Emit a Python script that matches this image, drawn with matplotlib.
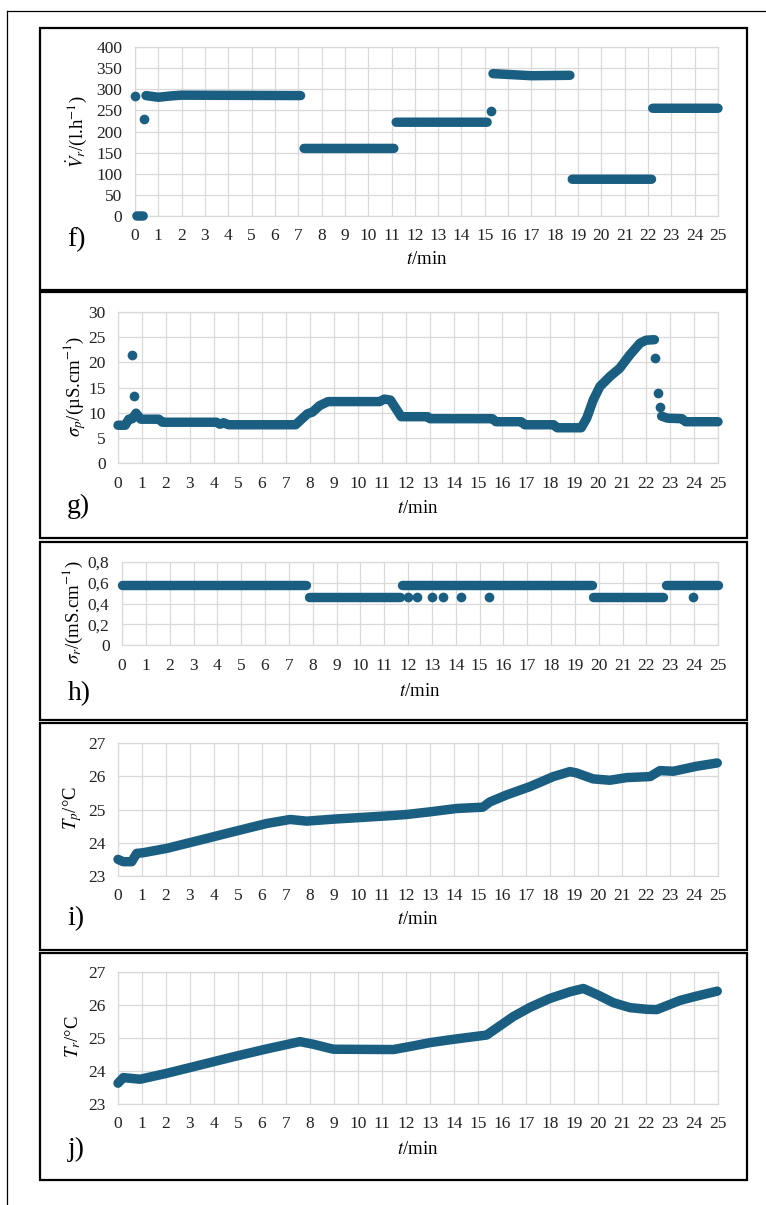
import numpy as np
import matplotlib
matplotlib.use('Agg')
import matplotlib.pyplot as plt
from matplotlib.patches import Rectangle
from matplotlib.lines import Line2D

nan = np.nan

# f) reject flow
f_t = [0.08, 0.35, nan, 0.47, 1.0, 1.5, 2.0, 7.1, nan, 7.25, 11.1, nan,
       11.2, 15.1, nan, 15.35, 17.0, 18.65, nan, 18.75, 22.15, nan, 22.2, 25.0]
f_v = [0, 0, nan, 285, 281, 284, 286, 285, nan, 160, 160, nan,
       222, 222, nan, 337, 332, 333, nan, 87, 87, nan, 255, 255]
f_dot_t = [0.0, 0.4, 15.25]
f_dot_v = [285, 230, 248]

# g) permeate conductivity
g_t = [0, 0.3, 0.45, 0.6, 0.75, 0.95, 1.7, 1.85, 4.1, 4.25, 4.4, 4.6, 7.4,
       7.9, 8.1, 8.4, 8.75, 10.9, 11.1, 11.35, 11.8, 12.9, 13.0, 15.6, 15.75,
       16.8, 16.95, 18.15, 18.3, 19.3, 19.53, 19.8, 20.08, 20.5, 20.9, 21.33,
       21.75, 22.0, 22.35, nan, 22.65, 22.9, 23.5, 23.65, 25.0]
g_v = [7.5, 7.5, 8.7, 8.8, 9.9, 8.7, 8.7, 8.1, 8.1, 7.7, 8.0, 7.6, 7.6,
       9.8, 10.1, 11.4, 12.2, 12.2, 12.7, 12.5, 9.2, 9.2, 8.8, 8.8, 8.2,
       8.2, 7.6, 7.6, 7.0, 7.0, 8.9, 12.5, 15.2, 17.2, 18.8, 21.5,
       23.8, 24.4, 24.5, nan, 9.3, 8.9, 8.8, 8.2, 8.2]
g_dot_t = [0.6, 0.67, 22.39, 22.49, 22.58]
g_dot_v = [21.5, 13.3, 20.8, 13.9, 11.1]

# h) reject conductivity
h_t = [0, 7.7, nan, 7.85, 11.65, nan, 11.75, 19.7, nan, 19.75, 22.7, nan, 22.8, 25.0]
h_v = [0.58, 0.58, nan, 0.46, 0.46, nan, 0.58, 0.58, nan, 0.46, 0.46, nan, 0.58, 0.58]
h_dot_t = [12.0, 12.37, 13.0, 13.45, 14.2, 15.4, 23.97]
h_dot_v = [0.46, 0.46, 0.46, 0.46, 0.46, 0.46, 0.46]

# i) permeate temperature
i_t = [0, 0.22, 0.57, 0.78, 1.05, 2.03, 3.42, 4.8, 6.2, 7.17, 7.86, 8.97,
       10.36, 11.47, 12.03, 13.0, 14.1, 15.2, 15.5, 16.2, 17.17, 18.14,
       18.83, 19.1, 19.8, 20.5, 21.2, 22.17, 22.58, 23.14, 24.1, 24.97]
i_v = [23.5, 23.43, 23.43, 23.68, 23.7, 23.83, 24.08, 24.33, 24.58, 24.7,
       24.65, 24.71, 24.77, 24.82, 24.85, 24.93, 25.03, 25.07, 25.23, 25.44,
       25.69, 25.99, 26.14, 26.1, 25.92, 25.88, 25.96, 25.99, 26.17, 26.15,
       26.3, 26.4]

# j) reject temperature
j_t = [0.0, 0.22, 0.92, 2.03, 3.42, 4.8, 6.2, 7.58, 8.14, 8.97, 11.47,
       12.3, 13.0, 13.97, 15.36, 16.47, 17.17, 18.0, 18.83, 19.39, 19.95,
       20.64, 21.33, 22.03, 22.45, 23.42, 24.11, 24.97]
j_v = [23.63, 23.8, 23.75, 23.93, 24.18, 24.43, 24.67, 24.89, 24.81, 24.66,
       24.65, 24.76, 24.86, 24.96, 25.09, 25.65, 25.93, 26.2, 26.4, 26.5,
       26.32, 26.07, 25.92, 25.87, 25.86, 26.14, 26.27, 26.42]

x_ticks = list(range(0, 26))
f_yticks = [0, 50, 100, 150, 200, 250, 300, 350, 400]
g_yticks = [0, 5, 10, 15, 20, 25, 30]
h_yticks = [0, 0.2, 0.4, 0.6, 0.8]
h_ylabels = ['0', '0,2', '0,4', '0,6', '0,8']
t_yticks = [23, 24, 25, 26, 27]

W, H = 766, 1205
COL = '#1a5f82'
GRID = '#d9d9d9'

plt.rcParams['font.family'] = ['Liberation Serif', 'DejaVu Serif']
plt.rcParams['mathtext.fontset'] = 'stix'

fig = plt.figure(figsize=(W / 100, H / 100), dpi=100)


def fx(x):
    return x / W


def fy(y):
    return 1 - y / H


def make_ax(left, right, top, bottom, yticks, ylabels=None):
    ax = fig.add_axes([fx(left), fy(bottom), fx(right - left), (bottom - top) / H])
    ax.set_xlim(0, 25)
    ax.set_ylim(yticks[0], yticks[-1])
    ax.set_xticks(x_ticks)
    ax.set_yticks(yticks)
    if ylabels:
        ax.set_yticklabels(ylabels)
    ax.grid(True, color=GRID, lw=0.9)
    ax.set_axisbelow(True)
    for s in ax.spines.values():
        s.set_color(GRID)
        s.set_linewidth(0.9)
    ax.tick_params(axis='both', length=0, labelsize=12.5, colors='#222222')
    ax.tick_params(axis='y', pad=9)
    ax.tick_params(axis='x', pad=9)
    return ax


def draw(ax, t, v, dt=None, dv=None):
    ax.plot(t, v, color=COL, lw=6.8, solid_capstyle='round',
            solid_joinstyle='round', clip_on=False, zorder=3)
    if dt:
        ax.plot(dt, dv, 'o', color=COL, ms=7, mew=0, clip_on=False, zorder=3)


ax = make_ax(135, 718, 47, 216, f_yticks)
draw(ax, f_t, f_v, f_dot_t, f_dot_v)
ax = make_ax(118, 718, 312, 463, g_yticks)
draw(ax, g_t, g_v, g_dot_t, g_dot_v)
ax = make_ax(122, 718, 562, 645, h_yticks, h_ylabels)
draw(ax, h_t, h_v, h_dot_t, h_dot_v)
ax = make_ax(118, 718, 743, 876, t_yticks)
draw(ax, i_t, i_v)
ax = make_ax(118, 718, 972, 1104, t_yticks)
draw(ax, j_t, j_v)

# labels
ylabs = [(r'$\dot{V}_r$/(l.h$^{-1}$)', 77, 132),
         (r'$\sigma_p$/(µS.cm$^{-1}$)', 75, 386),
         (r'$\sigma_r$/(mS.cm$^{-1}$)', 73, 612),
         (r'$T_p$/°C', 73, 808),
         (r'$T_r$/°C', 73, 1037)]
for s, x, y in ylabs:
    fig.text(fx(x), fy(y), s, rotation=90, ha='center', va='center', fontsize=13.5)

xlab_pos = [(427, 260), (418, 508), (420, 691), (418, 920), (418, 1149)]
for x, y in xlab_pos:
    fig.text(fx(x), fy(y), r'$t$/min', ha='center', va='center', fontsize=13.5)

letters = [('f)', 76, 240), ('g)', 78, 506), ('h)', 79, 694), ('i)', 76, 919), ('j)', 76, 1149)]
for s, x, y in letters:
    fig.text(fx(x), fy(y), s, ha='center', va='center', fontsize=20)

# panel frames
boxes = [(28, 290), (292, 538), (542, 720), (723, 950), (953, 1180)]
for top, bottom in boxes:
    fig.patches.append(Rectangle((fx(40), fy(bottom)), fx(707), (bottom - top) / H,
                                 transform=fig.transFigure, fill=False,
                                 edgecolor='black', lw=1.6))

# outer frame lines
fig.lines.append(Line2D([fx(7), 1], [fy(11), fy(11)], transform=fig.transFigure,
                        color='black', lw=0.9))
fig.lines.append(Line2D([fx(7), fx(7)], [fy(11), 0], transform=fig.transFigure,
                        color='black', lw=0.9))

fig.savefig('out.png', dpi=100)
